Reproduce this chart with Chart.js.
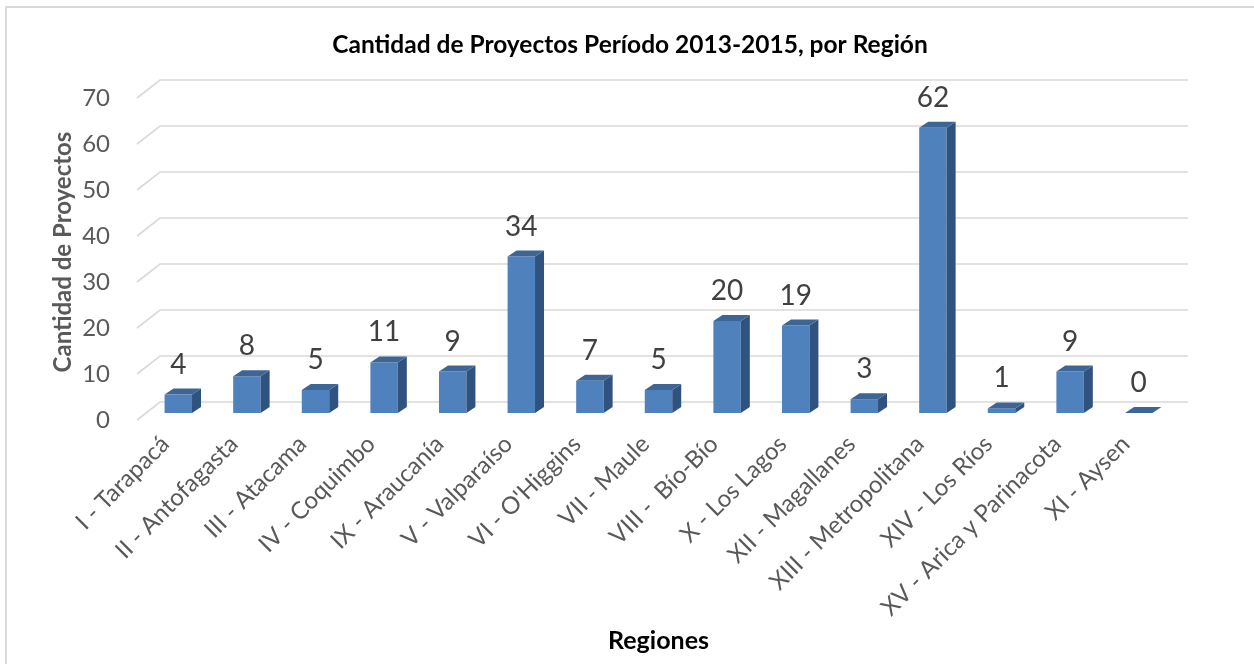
<!DOCTYPE html>
<html><head><meta charset="utf-8">
<script src="https://cdn.jsdelivr.net/npm/chart.js@4.4.0/dist/chart.umd.min.js"></script>
<style>html,body{margin:0;padding:0;background:#fff;overflow:hidden}</style>
</head><body>
<canvas id="c" width="1254" height="664"></canvas>
<script>
const categories = ['I - Tarapacá','II - Antofagasta','III - Atacama','IV - Coquimbo','IX - Araucanía','V - Valparaíso',"VI - O'Higgins",'VII - Maule','VIII -  Bío-Bío','X - Los Lagos','XII - Magallanes','XIII - Metropolitana','XIV - Los Ríos','XV - Arica y Parinacota','XI - Aysen'];
const values = [4,8,5,11,9,34,7,5,20,19,3,62,1,9,0];
const yTicks = [0,10,20,30,40,50,60,70];
const chartTitle = 'Cantidad de Proyectos Período 2013-2015, por Región';
const yTitle = 'Cantidad de Proyectos';
const xTitle = 'Regiones';

const FONT = 'Lato';
const FRONT = '#4f81bd', TOP = '#3d6697', SIDE = '#30527f';
const DX = 9, DY = 6;

const threeD = {
  id: 'threeD',
  beforeDraw(chart) {
    const ctx = chart.ctx;
    ctx.save();
    ctx.fillStyle = '#fff';
    ctx.fillRect(0, 0, chart.width, chart.height);
    ctx.strokeStyle = '#d9d9d9';
    ctx.lineWidth = 2;
    ctx.beginPath();
    ctx.moveTo(6, chart.height + 2);
    ctx.lineTo(6, 7);
    ctx.lineTo(chart.width + 2, 7);
    ctx.stroke();
    ctx.fillStyle = '#000';
    ctx.font = 'bold 24.5px ' + FONT;
    ctx.textAlign = 'center';
    ctx.textBaseline = 'middle';
    ctx.fillText(chartTitle, 630, 45);
    ctx.restore();
  },
  beforeDatasetsDraw(chart) {
    const ctx = chart.ctx, a = chart.chartArea, ys = chart.scales.y;
    ctx.save();
    ctx.strokeStyle = '#d9d9d9';
    ctx.lineWidth = 1.6;
    yTicks.forEach(v => {
      const py = ys.getPixelForValue(v);
      ctx.beginPath();
      ctx.moveTo(a.left - 7, py + 7);
      ctx.lineTo(a.left + 16, py - 11);
      ctx.lineTo(a.right + 15, py - 11);
      ctx.stroke();
    });
    ctx.restore();
  },
  afterDatasetsDraw(chart) {
    const ctx = chart.ctx;
    const meta = chart.getDatasetMeta(0);
    ctx.save();
    meta.data.forEach((bar, i) => {
      const {x, y, base, width} = bar.getProps(['x','y','base','width'], true);
      const l = x - width / 2, r = x + width / 2;
      ctx.fillStyle = SIDE;
      ctx.beginPath();
      ctx.moveTo(r, y); ctx.lineTo(r + DX, y - DY); ctx.lineTo(r + DX, base - DY); ctx.lineTo(r, base);
      ctx.closePath(); ctx.fill();
      ctx.fillStyle = TOP;
      ctx.beginPath();
      ctx.moveTo(l, y); ctx.lineTo(l + DX, y - DY); ctx.lineTo(r + DX, y - DY); ctx.lineTo(r, y);
      ctx.closePath(); ctx.fill();
      ctx.fillStyle = '#404040';
      ctx.font = '28px ' + FONT;
      ctx.textAlign = 'center';
      ctx.textBaseline = 'middle';
      ctx.fillText(String(values[i]), x, y - 30);
    });
    ctx.restore();
  }
};

function build() {
  new Chart(document.getElementById('c'), {
    type: 'bar',
    data: {
      labels: categories,
      datasets: [{ data: values, backgroundColor: FRONT, borderWidth: 0, categoryPercentage: 1, barPercentage: 0.4 }]
    },
    plugins: [threeD],
    options: {
      responsive: false,
      animation: false,
      events: [],
      layout: { padding: { left: 40, right: 81, top: 91, bottom: 8 } },
      plugins: {
        legend: { display: false },
        tooltip: { enabled: false },
        title: { display: false }
      },
      scales: {
        x: {
          grid: { display: false, drawTicks: false }, border: { display: false },
          ticks: { font: { family: FONT, size: 24 }, color: '#595959', minRotation: 45, maxRotation: 45, padding: 17, labelOffset: -13, autoSkip: false },
          title: { display: true, text: xTitle, color: '#000', font: { family: FONT, size: 25, weight: 'bold' }, padding: { top: 0, bottom: 0 } },
          afterFit: s => { s.height = 664 - 8 - 413; }
        },
        y: {
          min: 0, max: 70,
          afterBuildTicks: s => { s.ticks = yTicks.map(v => ({ value: v })); },
          grid: { display: false, drawTicks: false }, border: { display: false },
          ticks: { font: { family: FONT, size: 24 }, color: '#595959', padding: 34, labelOffset: 7 },
          title: { display: true, text: yTitle, color: '#595959', font: { family: FONT, size: 24, weight: 'bold' }, padding: { top: 9, bottom: 0 } },
          afterFit: s => { s.width = 144 - 40; }
        }
      }
    }
  });
}
Promise.all([document.fonts.load('24px Lato'), document.fonts.load('bold 24px Lato')]).then(build, build);
</script>
</body></html>
